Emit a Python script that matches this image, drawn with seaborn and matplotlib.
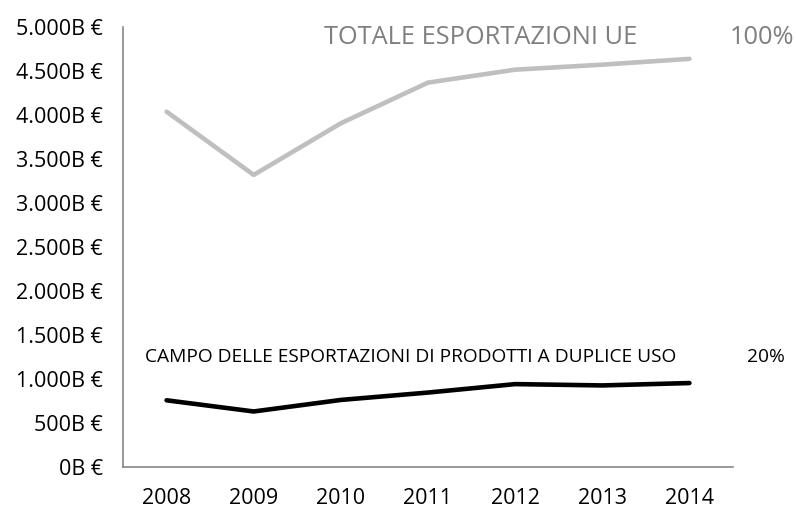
import pandas as pd
import matplotlib
matplotlib.use("Agg")
import matplotlib.pyplot as plt
import seaborn as sns
from matplotlib.ticker import FuncFormatter

# dati (miliardi di euro)
anni = [2008, 2009, 2010, 2011, 2012, 2013, 2014]
totale_ue = [4038, 3319, 3906, 4368, 4515, 4572, 4638]
duplice_uso = [758, 631, 762, 846, 942, 927, 954]
y_ticks = [0, 500, 1000, 1500, 2000, 2500, 3000, 3500, 4000, 4500, 5000]

df = pd.DataFrame({
    "anno": anni * 2,
    "valore": totale_ue + duplice_uso,
    "serie": ["totale"] * len(anni) + ["duplice"] * len(anni),
})

sns.set_style("white")
plt.rcParams["font.family"] = ["Open Sans", "DejaVu Sans"]

fig = plt.figure(figsize=(7.96, 5.09), dpi=100)
ax = fig.add_axes([123 / 796, 42 / 509, 610 / 796, 440 / 509])

sns.lineplot(data=df, x="anno", y="valore", hue="serie",
             palette={"totale": "#bfbfbf", "duplice": "#000000"},
             linewidth=3.3, legend=False, ax=ax, solid_capstyle="round")

ax.set_xlim(2007.5, 2014.5)
ax.set_ylim(0, 5000)
ax.set_xticks(anni)
ax.set_xticks([a - 0.5 for a in anni] + [2014.5], minor=True)
ax.set_yticks(y_ticks)
ax.yaxis.set_major_formatter(FuncFormatter(lambda v, p: f"{int(v):,}B €".replace(",", ".")))
ax.tick_params(axis="x", which="major", length=0, pad=15, labelsize=15.5, labelcolor="black")
ax.tick_params(axis="x", which="minor", length=5.5, width=1.2, color="#868686", direction="out")
ax.tick_params(axis="y", length=5.5, width=1.2, color="#868686", direction="out", pad=9,
               labelsize=15.5, labelcolor="black")
ax.set_xlabel("")
ax.set_ylabel("")

for s in ["top", "right"]:
    ax.spines[s].set_visible(False)
for s in ["left", "bottom"]:
    ax.spines[s].set_color("#868686")
    ax.spines[s].set_linewidth(1.2)

ax.text(2009.81, 4875, "TOTALE ESPORTAZIONI UE", color="#7f7f7f", fontsize=18.3,
        va="center", ha="left", clip_on=False)
ax.text(2015.2, 4875, "100%", color="#7f7f7f", fontsize=18.3,
        va="center", ha="right", clip_on=False)
ax.text(2007.75, 1250, "CAMPO DELLE ESPORTAZIONI DI PRODOTTI A DUPLICE USO", color="black",
        fontsize=13.8, va="center", ha="left", clip_on=False)
ax.text(2014.66, 1250, "20%", color="black", fontsize=13.8,
        va="center", ha="left", clip_on=False)

fig.savefig("out.png", dpi=100)
